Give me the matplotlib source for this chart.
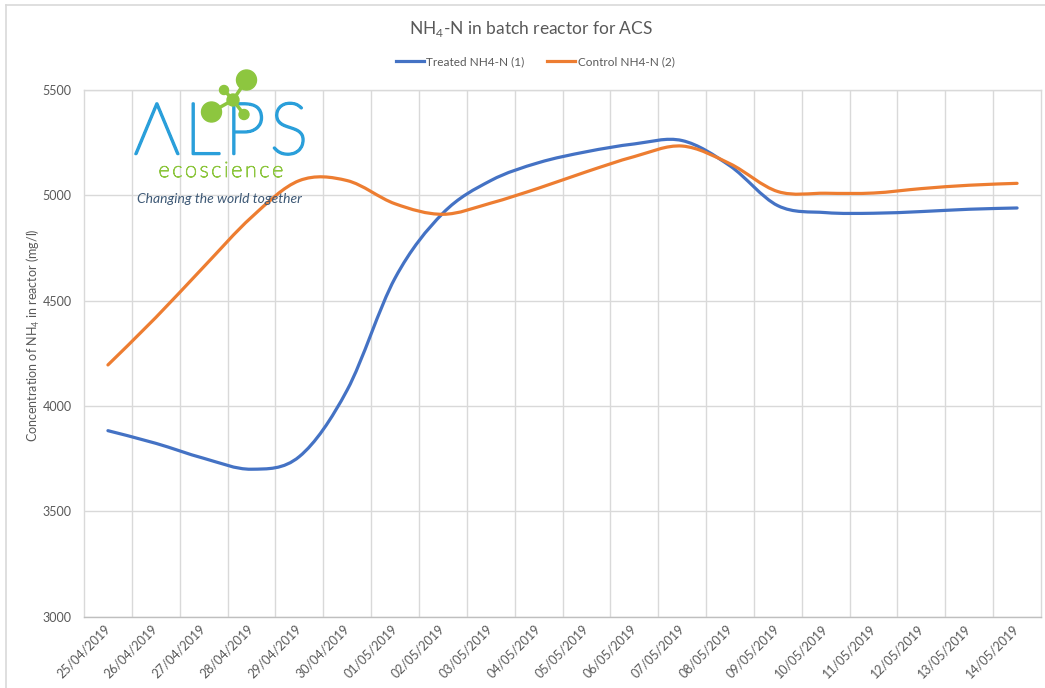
import matplotlib
matplotlib.use("Agg")
import matplotlib.pyplot as plt
import matplotlib.patheffects as pe
from matplotlib.path import Path
from matplotlib.patches import PathPatch, Circle
from matplotlib.lines import Line2D

plt.rcParams["font.family"] = ["Lato", "DejaVu Sans"]
plt.rcParams["mathtext.fontset"] = "custom"
plt.rcParams["mathtext.rm"] = "Lato"

dates = ["25/04/2019", "26/04/2019", "27/04/2019", "28/04/2019", "29/04/2019",
         "30/04/2019", "01/05/2019", "02/05/2019", "03/05/2019", "04/05/2019",
         "05/05/2019", "06/05/2019", "07/05/2019", "08/05/2019", "09/05/2019",
         "10/05/2019", "11/05/2019", "12/05/2019", "13/05/2019", "14/05/2019"]
treated = [3883, 3823, 3752, 3700, 3760, 4076, 4607, 4915, 5070, 5155,
           5207, 5244, 5260, 5140, 4951, 4918, 4915, 4923, 4934, 4940]
control = [4195, 4420, 4660, 4896, 5070, 5070, 4960, 4910, 4963, 5034,
           5112, 5184, 5234, 5150, 5018, 5010, 5011, 5032, 5048, 5057]

BLUE = "#4472C4"
ORANGE = "#ED7D31"
GRID = "#D9D9D9"
TEXT = "#595959"


def smooth_path(xs, ys):
    # Excel-style smoothed line: cubic Bezier segments through every point
    n = len(xs)
    verts = [(xs[0], ys[0])]
    codes = [Path.MOVETO]
    for i in range(n - 1):
        a = i - 1 if i > 0 else i
        d = i + 2 if i + 2 < n else i + 1
        c1 = (xs[i] + (xs[i + 1] - xs[a]) / 6, ys[i] + (ys[i + 1] - ys[a]) / 6)
        c2 = (xs[i + 1] - (xs[d] - xs[i]) / 6, ys[i + 1] - (ys[d] - ys[i]) / 6)
        verts += [c1, c2, (xs[i + 1], ys[i + 1])]
        codes += [Path.CURVE4] * 3
    return Path(verts, codes)


W, H = 1045, 688
fig = plt.figure(figsize=(W / 100, H / 100), dpi=100)
ax = fig.add_axes([84 / W, 1 - 616.7 / H, (1041 - 84) / W, (616.7 - 90) / H])

x = list(range(len(dates)))
for ys, col in [(treated, BLUE), (control, ORANGE)]:
    ax.add_patch(PathPatch(smooth_path(x, ys), fill=False, edgecolor=col,
                           lw=2.3, capstyle="round", zorder=3))

ax.set_xlim(-0.5, len(dates) - 0.5)
ax.set_ylim(3000, 5500)
ax.set_yticks(range(3000, 5501, 500))
ax.set_xticks(x)
ax.set_xticklabels(dates, rotation=45, ha="right", rotation_mode="anchor",
                   va="center", fontsize=9, color=TEXT)
ax.set_xticks([i + 0.5 for i in x[:-1]], minor=True)
ax.tick_params(axis="x", which="both", length=0, pad=7)
ax.tick_params(axis="y", length=0, pad=9, labelsize=9, labelcolor=TEXT)
ax.grid(True, axis="y", color=GRID, lw=1)
ax.grid(True, axis="x", which="minor", color=GRID, lw=1)
ax.grid(False, axis="x", which="major")
for s in ax.spines.values():
    s.set_color(GRID)
    s.set_linewidth(1)
ax.spines["bottom"].set_color("#BFBFBF")

fig.text(531 / W, 1 - 29 / H, "NH$_4$-N in batch reactor for ACS",
         ha="center", va="center", fontsize=12.5, color=TEXT)
fig.text(33 / W, 1 - 335 / H, "Concentration of NH$_4$ in reactor (mg/l)",
         rotation=90, ha="center", va="center", fontsize=9, color=TEXT)

handles = [Line2D([], [], color=BLUE, lw=2.3, label="Treated NH4-N (1)"),
           Line2D([], [], color=ORANGE, lw=2.3, label="Control NH4-N (2)")]
fig.legend(handles=handles, loc="center", bbox_to_anchor=(535 / W, 1 - 62 / H),
           ncol=2, frameon=False, fontsize=8.5, handlelength=2.4,
           handletextpad=0.2, columnspacing=1.9, labelcolor=TEXT)

# overlay in pixel coordinates for the logo and chart frame
ov = fig.add_axes([0, 0, 1, 1], zorder=5)
ov.set_xlim(0, W)
ov.set_ylim(H, 0)
ov.axis("off")
ov.patch.set_alpha(0)
ov.plot([6, W], [5, 5], color=GRID, lw=1.2)
ov.plot([6, 6], [5, H], color=GRID, lw=1.2)

LOGO_BLUE = "#2A9FDA"
GREEN = "#8DC63F"
ov.text(221, 154, "\u200a".join("ΛLPS"), ha="center", va="baseline",
        fontsize=52, fontweight="light", color=LOGO_BLUE, zorder=6,
        path_effects=[pe.withStroke(linewidth=1.8, foreground=LOGO_BLUE)])

hub = (233, 100)
for cx, cy, r in [(246.5, 80, 10), (211.5, 112, 10), (224, 90, 4.5), (244, 114.5, 5)]:
    ov.plot([hub[0], cx], [hub[1], cy], color=GREEN, lw=2.5, zorder=7)
    ov.add_patch(Circle((cx, cy), r, color=GREEN, zorder=8))
ov.add_patch(Circle(hub, 6, color=GREEN, zorder=8))

ov.text(221, 177, "\u2009".join("ecoscience"), ha="center", va="baseline",
        fontsize=15.5, fontweight="light", color=GREEN, zorder=6,
        path_effects=[pe.withStroke(linewidth=0.7, foreground=GREEN)])
ov.text(219, 199, "Changing the world together", ha="center", va="center",
        fontsize=10, style="italic", color="#3D5875", zorder=6)

fig.savefig("out.png", dpi=100)
